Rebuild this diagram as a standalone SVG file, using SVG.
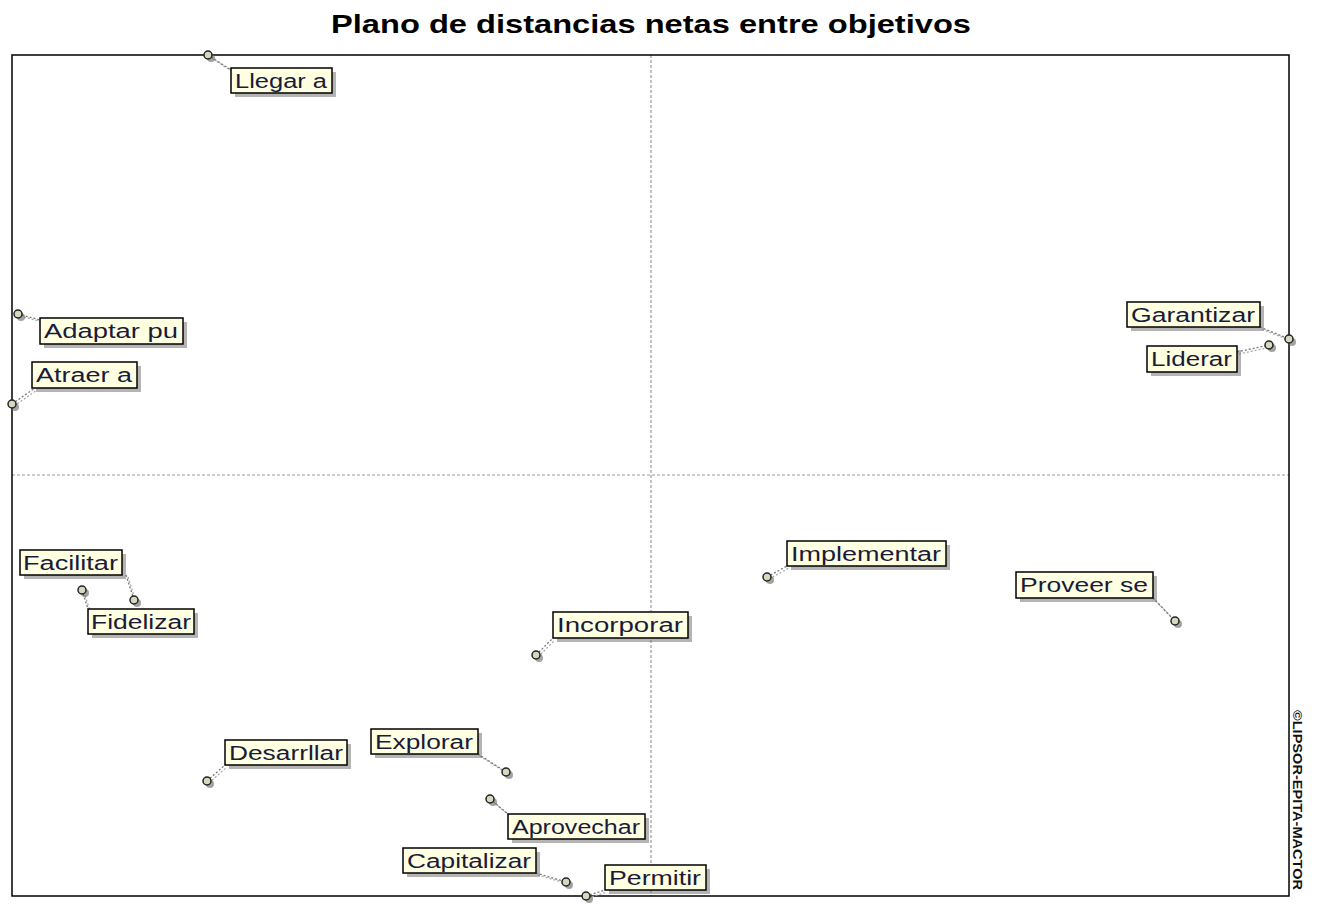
<svg xmlns="http://www.w3.org/2000/svg" width="1317" height="904" viewBox="0 0 1317 904">
<style>
.title{font-family:"Liberation Sans",Arial,sans-serif;font-weight:bold;font-size:25px;fill:#000}
.box{fill:#FFFFE1;stroke:#000;stroke-width:1.5}
.shadow{fill:#777;opacity:0.55}
.lbl{font-family:"Liberation Sans",Arial,sans-serif;font-size:20px;fill:#1a1a3a}
.pt{fill:#d8d8c0;stroke:#222;stroke-width:1.5}
.ptsh{fill:#666;opacity:0.6}
.con{stroke:#777;stroke-width:1.3;stroke-dasharray:2,2;fill:none}
.consh{stroke:#aaa;stroke-width:1.3;stroke-dasharray:2,2;fill:none}
.axis{stroke:#999;stroke-width:1.2;stroke-dasharray:3,2}
.frame{fill:none;stroke:#000;stroke-width:1.5}
.copy{font-family:"Liberation Sans",Arial,sans-serif;font-weight:bold;font-size:12px;fill:#111}
</style>
<rect width="1317" height="904" fill="#fff"/>
<text class="title" x="651" y="33" text-anchor="middle" textLength="640" lengthAdjust="spacingAndGlyphs">Plano de distancias netas entre objetivos</text>
<g id="axes">
<line class="axis" x1="651" y1="55" x2="651" y2="896"/>
<line class="axis" x1="12" y1="475" x2="1289" y2="475"/>
<rect class="frame" x="12" y="55" width="1277" height="841"/>
</g>
<text class="copy" transform="translate(1293,710) rotate(90)" textLength="180" lengthAdjust="spacingAndGlyphs">©LIPSOR-EPITA-MACTOR</text>
<g id="connectors">
<line class="consh" x1="210" y1="57" x2="233" y2="72"/><line class="con" x1="208" y1="55" x2="231" y2="70"/>
<line class="consh" x1="20" y1="316" x2="42" y2="322"/><line class="con" x1="18" y1="314" x2="40" y2="320"/>
<line class="consh" x1="14" y1="406" x2="37" y2="390"/><line class="con" x1="12" y1="404" x2="35" y2="388"/>
<line class="consh" x1="1262" y1="329" x2="1291" y2="341"/><line class="con" x1="1260" y1="327" x2="1289" y2="339"/>
<line class="consh" x1="1239" y1="354" x2="1271" y2="347"/><line class="con" x1="1237" y1="352" x2="1269" y2="345"/>
<line class="consh" x1="128" y1="577" x2="136" y2="602"/><line class="con" x1="126" y1="575" x2="134" y2="600"/>
<line class="consh" x1="84" y1="592" x2="90" y2="611"/><line class="con" x1="82" y1="590" x2="88" y2="609"/>
<line class="consh" x1="769" y1="579" x2="789" y2="568"/><line class="con" x1="767" y1="577" x2="787" y2="566"/>
<line class="consh" x1="1155" y1="600" x2="1177" y2="623"/><line class="con" x1="1153" y1="598" x2="1175" y2="621"/>
<line class="consh" x1="538" y1="657" x2="555" y2="640"/><line class="con" x1="536" y1="655" x2="553" y2="638"/>
<line class="consh" x1="209" y1="783" x2="227" y2="767"/><line class="con" x1="207" y1="781" x2="225" y2="765"/>
<line class="consh" x1="480" y1="756" x2="508" y2="774"/><line class="con" x1="478" y1="754" x2="506" y2="772"/>
<line class="consh" x1="492" y1="801" x2="510" y2="816"/><line class="con" x1="490" y1="799" x2="508" y2="814"/>
<line class="consh" x1="538" y1="875" x2="568" y2="884"/><line class="con" x1="536" y1="873" x2="566" y2="882"/>
<line class="consh" x1="588" y1="898" x2="607" y2="892"/><line class="con" x1="586" y1="896" x2="605" y2="890"/>
</g>
<g id="llegar"><circle class="ptsh" cx="211" cy="58" r="4"/><circle class="pt" cx="208" cy="55" r="4"/><rect class="shadow" x="235" y="72" width="101" height="25"/><rect class="box" x="231" y="68" width="101" height="25"/><text class="lbl" x="235" y="88" textLength="92" lengthAdjust="spacingAndGlyphs">Llegar a</text></g>
<g id="adaptar"><circle class="ptsh" cx="21" cy="317" r="4"/><circle class="pt" cx="18" cy="314" r="4"/><rect class="shadow" x="44" y="322" width="143" height="26"/><rect class="box" x="40" y="318" width="143" height="26"/><text class="lbl" x="44" y="338" textLength="134" lengthAdjust="spacingAndGlyphs">Adaptar pu</text></g>
<g id="atraer"><circle class="ptsh" cx="15" cy="407" r="4"/><circle class="pt" cx="12" cy="404" r="4"/><rect class="shadow" x="36" y="366" width="105" height="26"/><rect class="box" x="32" y="362" width="105" height="26"/><text class="lbl" x="36" y="382" textLength="96" lengthAdjust="spacingAndGlyphs">Atraer a</text></g>
<g id="garantizar"><circle class="ptsh" cx="1292" cy="342" r="4"/><circle class="pt" cx="1289" cy="339" r="4"/><rect class="shadow" x="1131" y="306" width="133" height="25"/><rect class="box" x="1127" y="302" width="133" height="25"/><text class="lbl" x="1131" y="322" textLength="124" lengthAdjust="spacingAndGlyphs">Garantizar</text></g>
<g id="liderar"><circle class="ptsh" cx="1272" cy="348" r="4"/><circle class="pt" cx="1269" cy="345" r="4"/><rect class="shadow" x="1151" y="350" width="90" height="26"/><rect class="box" x="1147" y="346" width="90" height="26"/><text class="lbl" x="1151" y="366" textLength="81" lengthAdjust="spacingAndGlyphs">Liderar</text></g>
<g id="facilitar"><circle class="ptsh" cx="137" cy="603" r="4"/><circle class="pt" cx="134" cy="600" r="4"/><rect class="shadow" x="24" y="554" width="102" height="25"/><rect class="box" x="20" y="550" width="102" height="25"/><text class="lbl" x="23" y="570" textLength="95" lengthAdjust="spacingAndGlyphs">Facilitar</text></g>
<g id="fidelizar"><circle class="ptsh" cx="85" cy="593" r="4"/><circle class="pt" cx="82" cy="590" r="4"/><rect class="shadow" x="92" y="613" width="106" height="25"/><rect class="box" x="88" y="609" width="106" height="25"/><text class="lbl" x="91" y="629" textLength="100" lengthAdjust="spacingAndGlyphs">Fidelizar</text></g>
<g id="implementar"><circle class="ptsh" cx="770" cy="580" r="4"/><circle class="pt" cx="767" cy="577" r="4"/><rect class="shadow" x="791" y="545" width="159" height="25"/><rect class="box" x="787" y="541" width="159" height="25"/><text class="lbl" x="791" y="561" textLength="150" lengthAdjust="spacingAndGlyphs">Implementar</text></g>
<g id="proveer"><circle class="ptsh" cx="1178" cy="624" r="4"/><circle class="pt" cx="1175" cy="621" r="4"/><rect class="shadow" x="1020" y="576" width="137" height="26"/><rect class="box" x="1016" y="572" width="137" height="26"/><text class="lbl" x="1020" y="592" textLength="128" lengthAdjust="spacingAndGlyphs">Proveer se</text></g>
<g id="incorporar"><circle class="ptsh" cx="539" cy="658" r="4"/><circle class="pt" cx="536" cy="655" r="4"/><rect class="shadow" x="557" y="616" width="135" height="26"/><rect class="box" x="553" y="612" width="135" height="26"/><text class="lbl" x="557" y="632" textLength="126" lengthAdjust="spacingAndGlyphs">Incorporar</text></g>
<g id="desarrllar"><circle class="ptsh" cx="210" cy="784" r="4"/><circle class="pt" cx="207" cy="781" r="4"/><rect class="shadow" x="229" y="744" width="122" height="25"/><rect class="box" x="225" y="740" width="122" height="25"/><text class="lbl" x="229" y="760" textLength="114" lengthAdjust="spacingAndGlyphs">Desarrllar</text></g>
<g id="explorar"><circle class="ptsh" cx="509" cy="775" r="4"/><circle class="pt" cx="506" cy="772" r="4"/><rect class="shadow" x="375" y="733" width="107" height="25"/><rect class="box" x="371" y="729" width="107" height="25"/><text class="lbl" x="375" y="749" textLength="98" lengthAdjust="spacingAndGlyphs">Explorar</text></g>
<g id="aprovechar"><circle class="ptsh" cx="493" cy="802" r="4"/><circle class="pt" cx="490" cy="799" r="4"/><rect class="shadow" x="512" y="818" width="137" height="25"/><rect class="box" x="508" y="814" width="137" height="25"/><text class="lbl" x="512" y="834" textLength="128" lengthAdjust="spacingAndGlyphs">Aprovechar</text></g>
<g id="capitalizar"><circle class="ptsh" cx="569" cy="885" r="4"/><circle class="pt" cx="566" cy="882" r="4"/><rect class="shadow" x="407" y="852" width="133" height="25"/><rect class="box" x="403" y="848" width="133" height="25"/><text class="lbl" x="407" y="868" textLength="124" lengthAdjust="spacingAndGlyphs">Capitalizar</text></g>
<g id="permitir"><circle class="ptsh" cx="589" cy="899" r="4"/><circle class="pt" cx="586" cy="896" r="4"/><rect class="shadow" x="609" y="869" width="101" height="25"/><rect class="box" x="605" y="865" width="101" height="25"/><text class="lbl" x="609" y="885" textLength="92" lengthAdjust="spacingAndGlyphs">Permitir</text></g>
</svg>
